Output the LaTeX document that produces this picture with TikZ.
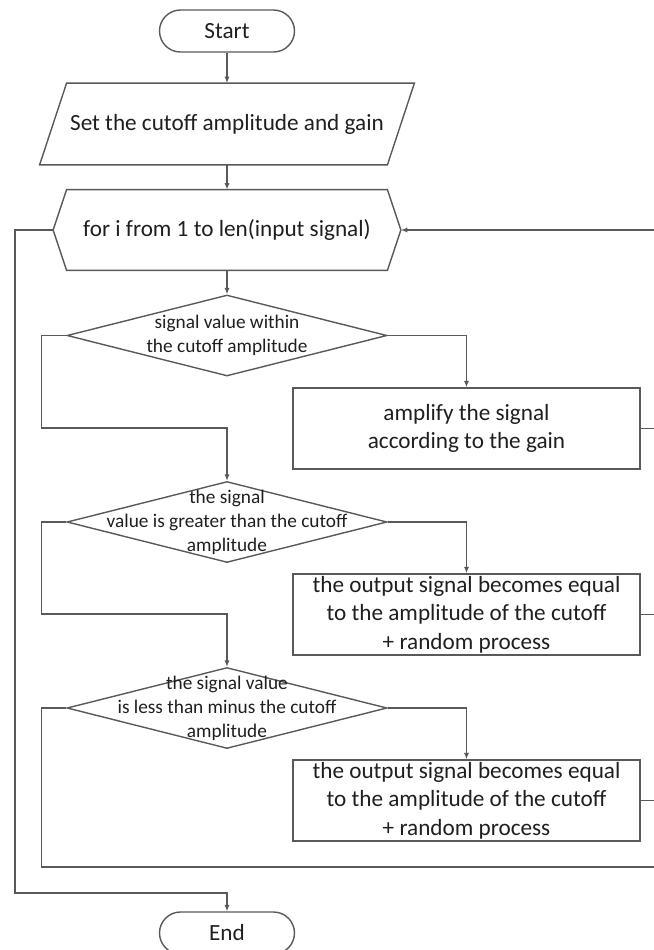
\documentclass[tikz,border=0pt]{standalone}
\usepackage{fontspec}
\setmainfont{Carlito}
\usetikzlibrary{arrows.meta,calc,shapes.geometric,shapes.misc}
\definecolor{edge}{HTML}{595959}
\definecolor{ink}{HTML}{1F1F1F}

\begin{document}
\begin{tikzpicture}[x=0.5pt, y=-0.5pt,
  shapeline/.style={draw=edge, line width=0.7pt},
  terminal/.style={shapeline, rounded rectangle, minimum width=67.5pt, minimum height=21pt, inner sep=0pt, text=ink, font=\fontsize{11.6}{14}\selectfont},
  iobox/.style={minimum width=173.5pt, minimum height=40.5pt, inner sep=0pt, text=ink, font=\fontsize{11.6}{14}\selectfont},
  loopbox/.style={minimum width=160pt, minimum height=40pt, inner sep=0pt, text=ink, font=\fontsize{11.6}{14}\selectfont},
  decision/.style={shapeline, diamond, minimum width=160pt, minimum height=40.5pt, inner sep=0pt},
  condtext/.style={align=center, inner sep=0pt, text=ink, font=\fontsize{9.65}{12}\selectfont},
  process/.style={shapeline, rectangle, minimum width=173.5pt, minimum height=40.5pt, align=center, inner sep=0pt, text=ink, font=\fontsize{11.6}{14.25}\selectfont},
  link/.style={draw=edge, line width=0.7pt},
  arrow/.style={link, -{Latex[length=3.2pt,width=2.6pt]}},
]
\useasboundingbox (0,0) rectangle (654,950);
\clip (0,0) rectangle (654,950);

\node[terminal] (start) at (227,31) {Start};

% input parallelogram
\node[iobox] (init) at (227,124) {Set the cutoff amplitude and gain};
\draw[shapeline] ($(init.south west)+(-13.5,0)$) -- ($(init.north west)+(13.5,0)$)
  -- ($(init.north east)+(13.5,0)$) -- ($(init.south east)+(-13.5,0)$) -- cycle;

% loop header hexagon
\node[loopbox] (loop) at (227,230) {for i from 1 to len(input signal)};
\coordinate (loopL) at ($(loop.west)+(-13.5,0)$);
\coordinate (loopR) at ($(loop.east)+(13.5,0)$);
\draw[shapeline] (loop.north west) -- (loop.north east) -- (loopR) -- (loop.south east)
  -- (loop.south west) -- (loopL) -- cycle;

\node[decision] (cond1) at (227,335.5) {};
\node[condtext] (cond1t) at (cond1) {signal value within\\the cutoff amplitude};
\node[process] (amp) at (466.5,428.5) {amplify the signal\\according to the gain};

\node[decision] (cond2) at (227,522) {};
\node[condtext] (cond2t) at (cond2) {the signal\\value is greater than the cutoff\\amplitude};
\node[process] (clipup) at (466.5,614.5) {the output signal becomes equal\\to the amplitude of the cutoff\\+ random process};

\node[decision] (cond3) at (227,708) {};
\node[condtext] (cond3t) at (cond3) {the signal value\\is less than minus the cutoff\\amplitude};
\node[process] (clipdown) at (466.5,800.5) {the output signal becomes equal\\to the amplitude of the cutoff\\+ random process};

\node[terminal] (end) at (227,933) {End};

\coordinate (railT) at (660,230);
\coordinate (railB) at (660,867);
\coordinate (join1) at (227,428);
\coordinate (join2) at (227,614);
\coordinate (exit) at (227,893);

\draw[arrow] (start.south) -- (init.north);
\draw[arrow] (init.south) -- (loop.north);
\draw[arrow] (loop.south) -- (cond1.north);

\draw[arrow] (cond1.east) -| (amp.north);
\draw[arrow] (cond1.west) -- ++(-25,0) |- (join1) -- (cond2.north);
\draw[arrow] (cond2.east) -| (clipup.north);
\draw[arrow] (cond2.west) -- ++(-25,0) |- (join2) -- (cond3.north);
\draw[arrow] (cond3.east) -| (clipdown.north);

% back to the loop header
\draw[link] (amp.east) -- (amp.east -| railT);
\draw[link] (clipup.east) -- (clipup.east -| railT);
\draw[link] (clipdown.east) -- (clipdown.east -| railT);
\draw[arrow] (cond3.west) -- ++(-25,0) |- (railB) -- (railT) -- (loopR);

\draw[arrow] (loopL) -- ++(-38,0) |- (exit) -- (end.north);
\end{tikzpicture}
\end{document}
